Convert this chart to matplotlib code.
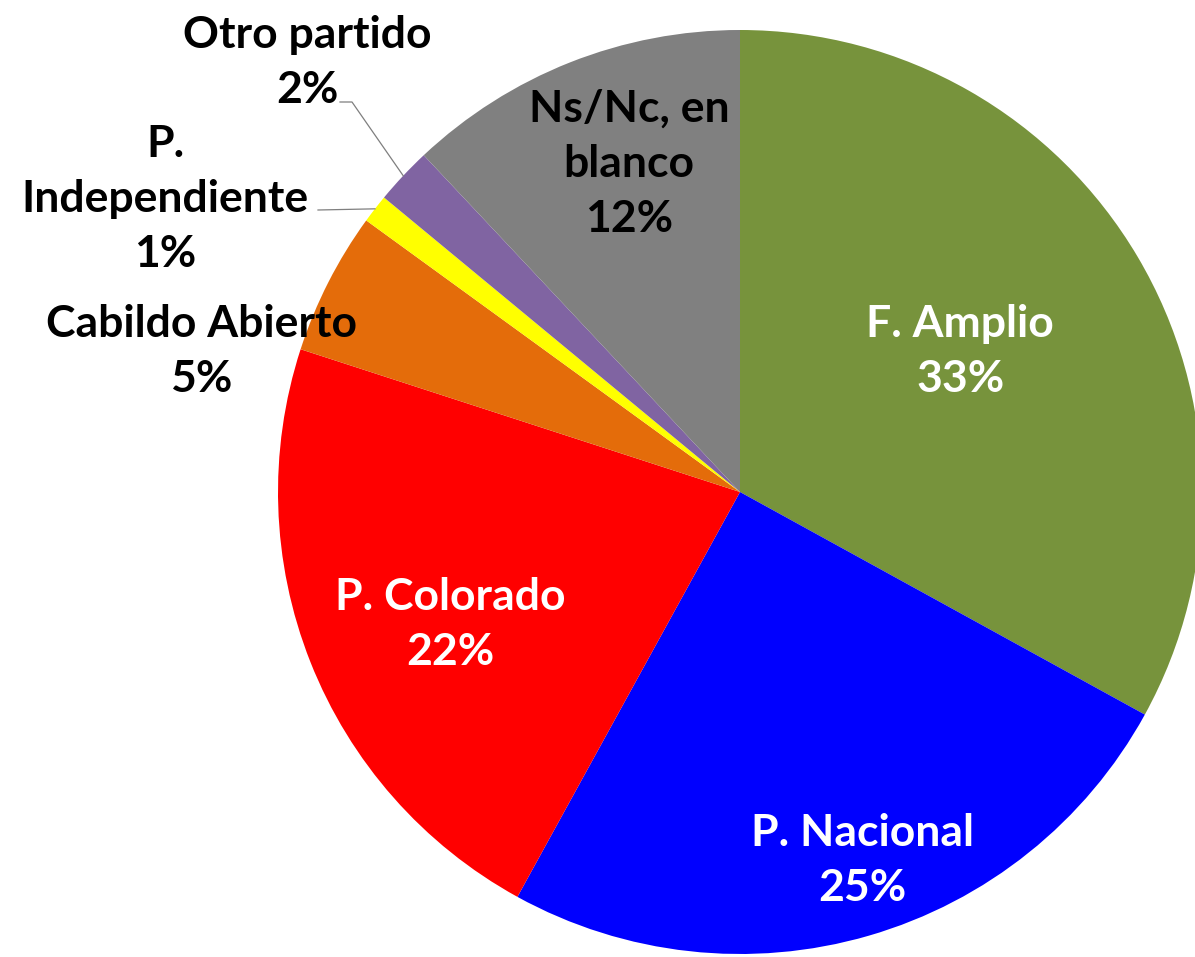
import numpy as np
import matplotlib
matplotlib.use("Agg")
import matplotlib.pyplot as plt

# Data
parties = ['F. Amplio', 'P. Nacional', 'P. Colorado', 'Cabildo Abierto',
           'P. Independiente', 'Otro partido', 'Ns/Nc, en blanco']
shares = [33, 25, 22, 5, 1, 2, 12]
label_text = ['F. Amplio\n33%', 'P. Nacional\n25%', 'P. Colorado\n22%',
              'Cabildo Abierto\n5%', 'P.\nIndependiente\n1%',
              'Otro partido\n2%', 'Ns/Nc, en\nblanco\n12%']
colors = ['#77933C', '#0000FF', '#FF0000', '#E46C0A', '#FFFF00', '#8064A2', '#808080']
text_colors = ['white', 'white', 'white', 'black', 'black', 'black', 'black']

# label placement: (distance from centre, angle in degrees)
label_pos = [(0.565, 32.5), (0.84, -71.6), (0.69, 204.5), (1.205, 165.4),
             (1.396, 153.0), (1.32, 135.2), (0.75, 108.7)]

plt.rcParams['font.family'] = ['Lato', 'DejaVu Sans']

W, H = 1195, 957
fig = plt.figure(figsize=(W / 100, H / 100), dpi=100)
ax = fig.add_axes([0, 0, 1, 1])

cx, cy, R = 740, 492, 462

wedges, _ = ax.pie(shares, colors=colors, startangle=90, counterclock=False,
                   radius=1, center=(0, 0), wedgeprops=dict(linewidth=0),
                   frame=True)
ax.set_xlim(-cx / R, (W - cx) / R)
ax.set_ylim((cy - H) / R, cy / R)
ax.set_aspect('equal')
ax.axis('off')

for i, (txt, (d, ang)) in enumerate(zip(label_text, label_pos)):
    x = d * np.cos(np.radians(ang))
    y = d * np.sin(np.radians(ang))
    ax.text(x, y, txt, ha='center', va='center', fontsize=32,
            fontweight='bold', color=text_colors[i], linespacing=1.45)

# leader lines for the small slices
def edge_point(w):
    mid = np.radians((w.theta1 + w.theta2) / 2)
    return np.cos(mid), np.sin(mid)

ex, ey = edge_point(wedges[5])
p1 = ((352 - cx) / R, (cy - 102) / R)
p2 = ((340 - cx) / R, (cy - 102) / R)
ax.plot([ex, p1[0], p2[0]], [ey, p1[1], p2[1]], color='#7f7f7f', lw=0.9)

ex, ey = edge_point(wedges[4])
q1 = ((318 - cx) / R, (cy - 210) / R)
ax.plot([ex, q1[0]], [ey, q1[1]], color='#7f7f7f', lw=0.9)

fig.savefig('out.png', dpi=100, facecolor='white')
